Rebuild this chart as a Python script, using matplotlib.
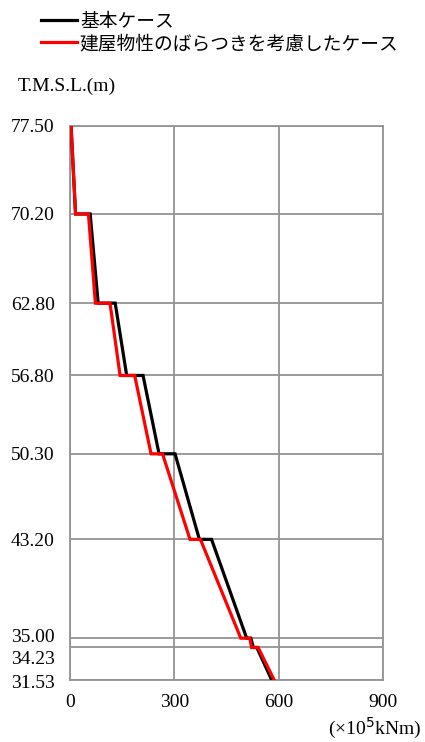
import matplotlib
matplotlib.use("Agg")
import matplotlib.pyplot as plt
from matplotlib.lines import Line2D
import matplotlib.transforms as mtransforms

# ---- data ----
levels = [77.50, 70.20, 62.80, 56.80, 50.30, 43.20, 35.00, 34.23, 31.53]
level_labels = ["77.50", "70.20", "62.80", "56.80", "50.30", "43.20", "35.00", "34.23", "31.53"]
# moment just below each level (upper end of the segment beneath) and just above (lower end of segment above)
base_above = [None, 16, 81, 163, 256, 372, 508, 527, 580]
base_below = [3, 58, 130, 210, 302, 407, 520, 537, None]
var_above = [None, 16, 73, 144, 233, 345, 491, 522, 587]
var_below = [3, 53, 115, 186, 266, 375, 517, 541, None]
xticks = [0, 300, 600, 900]
series_names = ["基本ケース", "建屋物性のばらつきを考慮したケース"]
series_colors = ["#000000", "#ff0000"]


def build_path(above, below):
    xs, ys = [], []
    for lv, a, b in zip(levels, above, below):
        if a is not None:
            xs.append(a); ys.append(lv)
        if b is not None:
            xs.append(b); ys.append(lv)
    return xs, ys


W, H = 425, 742
fig = plt.figure(figsize=(W / 100, H / 100), dpi=100)
ax = fig.add_axes([70 / W, 1 - 680 / H, (383 - 70) / W, (680 - 126) / H])

serif = ["Liberation Serif", "DejaVu Serif"]
cjk = ["Noto Sans CJK JP", "DejaVu Sans"]
grid_c = "#939393"
fs = 14

ax.set_xlim(0, 900)
ax.set_ylim(31.53, 77.50)
ax.set_xticks(xticks)
ax.set_xticklabels([str(t) for t in xticks], fontfamily=serif, fontsize=fs)
ax.set_yticks(levels)
ax.set_yticklabels(level_labels, fontfamily=serif, fontsize=fs)
ax.tick_params(axis="y", length=0, pad=11)
ax.tick_params(axis="x", length=0, pad=10)
ax.grid(True, color=grid_c, linewidth=1.3)
ax.set_axisbelow(True)
for s in ax.spines.values():
    s.set_color(grid_c)
    s.set_linewidth(1.3)

# nudge crowded labels
lbls = ax.get_yticklabels()
offs = {"35.00": 3, "34.23": -10, "31.53": -2}
for lb in lbls:
    t = lb.get_text()
    if t in offs:
        lb.set_transform(lb.get_transform() + mtransforms.ScaledTranslation(0, offs[t] / 100, fig.dpi_scale_trans))

xb, yb = build_path(base_above, base_below)
xv, yv = build_path(var_above, var_below)
ax.plot(xb, yb, color=series_colors[0], linewidth=2.3, solid_joinstyle="miter", zorder=3)
ax.plot(xv, yv, color=series_colors[1], linewidth=2.3, solid_joinstyle="miter", zorder=4)

handles = [Line2D([0], [0], color=c, linewidth=2.3) for c in series_colors]
fig.legend(handles, series_names, loc="upper left", bbox_to_anchor=(33 / W, 1 - 3 / H),
           frameon=False, prop={"family": cjk, "size": 13.5}, handlelength=1.95,
           handletextpad=0.15, labelspacing=0.08, borderaxespad=0)

fig.text(18 / W, 1 - 86 / H, "T.M.S.L.(m)", fontfamily=serif, fontsize=fs, va="center", ha="left")
fig.text(421 / W, 1 - 728 / H, "(×10$^{5}$kNm)", fontfamily=serif, fontsize=fs, va="center", ha="right")

fig.savefig("out.png", dpi=100)
